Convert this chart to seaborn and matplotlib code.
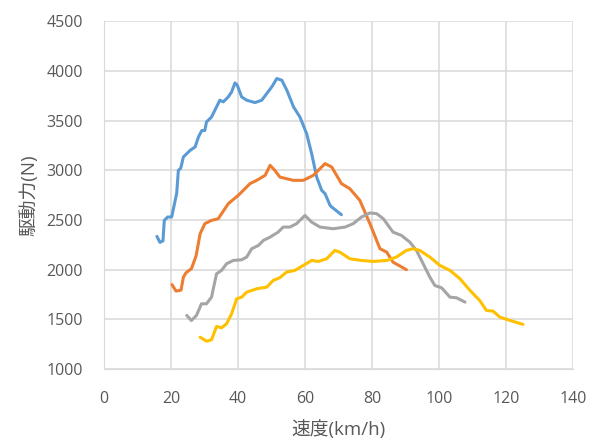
import pandas as pd
import seaborn as sns
import matplotlib
matplotlib.use('Agg')
import matplotlib.pyplot as plt

# gear curves: speed (km/h) and drive force (N)
speed_1 = [15.8, 16.7, 17.6, 18.0, 19.0, 20.2, 21.7, 22.2, 22.9, 23.7, 25.7, 27.2, 28.2, 29.2, 30.1, 30.6,
           32.1, 33.1, 34.6, 35.6, 37.1, 38.1, 39.1, 39.8, 41.1, 42.6, 45.1, 47.1, 48.6, 50.1, 51.6, 53.1,
           54.6, 56.6, 58.5, 60.5, 62.0, 63.5, 65.0, 66.0, 67.5, 68.0, 70.9]
force_1 = [2335, 2275, 2290, 2496, 2530, 2530, 2768, 3000, 3020, 3134, 3200, 3235, 3335, 3400, 3400, 3486,
           3536, 3604, 3705, 3688, 3738, 3788, 3879, 3855, 3738, 3705, 3681, 3705, 3772, 3839, 3923, 3906,
           3805, 3637, 3536, 3369, 3168, 2932, 2798, 2765, 2647, 2630, 2553]

speed_2 = [20.3, 21.5, 23.0, 23.7, 24.5, 26.1, 27.5, 28.7, 30.1, 32.1, 34.1, 37.1, 40.1, 43.6, 45.6, 48.1,
           49.6, 51.0, 52.5, 56.5, 59.5, 62.5, 66.0, 68.0, 70.9, 73.4, 76.4, 79.4, 82.4, 84.4, 86.3, 90.3]
force_2 = [1850, 1785, 1795, 1925, 1970, 2010, 2140, 2362, 2463, 2496, 2513, 2664, 2748, 2866, 2899, 2949,
           3050, 3000, 2932, 2899, 2899, 2949, 3067, 3033, 2866, 2815, 2697, 2463, 2211, 2177, 2076, 2000]

speed_3 = [24.7, 26.1, 27.6, 29.1, 30.6, 32.1, 33.6, 35.1, 36.6, 38.6, 41.1, 42.6, 44.1, 46.1, 47.6, 49.6,
           52.0, 53.5, 55.5, 57.5, 60.0, 62.0, 64.5, 68.4, 72.0, 74.4, 76.9, 79.4, 81.4, 83.4, 86.3, 88.8,
           91.3, 93.3, 95.3, 97.3, 98.8, 100.8, 103.3, 105.3, 107.8]
force_3 = [1540, 1489, 1540, 1657, 1657, 1724, 1959, 1993, 2060, 2093, 2100, 2127, 2211, 2244, 2295, 2328,
           2378, 2429, 2429, 2463, 2546, 2479, 2429, 2412, 2429, 2463, 2530, 2571, 2564, 2513, 2378, 2345,
           2278, 2194, 2060, 1925, 1841, 1818, 1724, 1717, 1674]

speed_4 = [28.7, 30.6, 32.1, 33.6, 35.1, 36.6, 38.1, 39.6, 41.1, 42.6, 45.6, 48.6, 50.5, 52.5, 54.5, 57.0,
           59.5, 62.0, 64.0, 66.5, 68.9, 70.4, 73.4, 76.9, 80.4, 84.4, 87.3, 90.3, 92.3, 94.3, 97.3, 100.3,
           103.3, 106.3, 109.3, 112.2, 114.2, 116.2, 118.2, 121.2, 125.1]
force_4 = [1321, 1281, 1295, 1429, 1416, 1456, 1556, 1707, 1724, 1774, 1808, 1825, 1892, 1919, 1976, 1993,
           2043, 2093, 2083, 2110, 2194, 2177, 2110, 2093, 2083, 2093, 2127, 2194, 2211, 2194, 2127, 2043,
           1993, 1909, 1791, 1690, 1590, 1583, 1523, 1490, 1450]

x_ticks = [0, 20, 40, 60, 80, 100, 120, 140]
y_ticks = [1000, 1500, 2000, 2500, 3000, 3500, 4000, 4500]

colors = ['#5B9BD5', '#ED7D31', '#A5A5A5', '#FFC000']

frames = []
for i, (s, f) in enumerate([(speed_1, force_1), (speed_2, force_2), (speed_3, force_3), (speed_4, force_4)]):
    frames.append(pd.DataFrame({'speed': s, 'force': f, 'gear': i + 1}))
df = pd.concat(frames, ignore_index=True)

sns.set_style('white')
plt.rcParams['font.family'] = ['Open Sans', 'Noto Sans CJK JP', 'DejaVu Sans']

fig = plt.figure(figsize=(6.03, 4.41), dpi=100)
ax = fig.add_axes([0.1725, 0.163, 0.7775, 0.789])
for g, c in zip(range(1, 5), colors):
    sns.lineplot(data=df[df['gear'] == g], x='speed', y='force', sort=False, color=c,
                 linewidth=2.2, ax=ax, legend=False)

ax.set_xlim(0, 140)
ax.set_ylim(1000, 4500)
ax.set_xticks(x_ticks)
ax.set_yticks(y_ticks)
ax.grid(True, color='#D9D9D9', linewidth=1.1)
ax.set_axisbelow(True)
for sp in ax.spines.values():
    sp.set_visible(False)
ax.spines['left'].set_visible(True)
ax.spines['bottom'].set_visible(True)
ax.spines['left'].set_color('#D9D9D9')
ax.spines['bottom'].set_color('#D9D9D9')
ax.tick_params(axis='both', length=0, labelsize=11.5, labelcolor='#595959')
ax.tick_params(axis='x', pad=16)
ax.tick_params(axis='y', pad=15)
ax.set_xlabel('速度(km/h)', fontsize=13.5, color='#595959', labelpad=9)
ax.set_ylabel('駆動力(N)', fontsize=13.5, color='#595959', labelpad=6)

plt.savefig('out.png', dpi=100)
